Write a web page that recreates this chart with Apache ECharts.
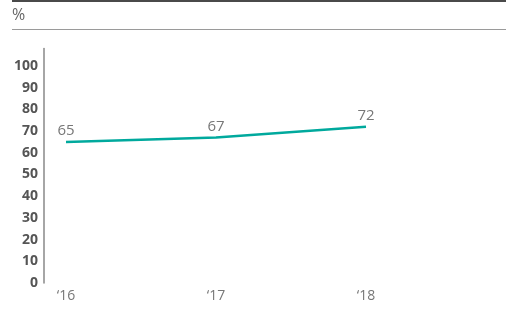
<!DOCTYPE html>
<html><head><meta charset="utf-8">
<script src="https://cdn.jsdelivr.net/npm/echarts@6/dist/echarts.min.js"></script>
<style>html,body{margin:0;padding:0;background:#fff}#c{width:506px;height:325px}</style>
</head><body><div id="c"></div>
<script>
var categories = ['\u201816', '\u201817', '\u201818'];
var values = [65, 67, 72];
var yTicks = [0, 10, 20, 30, 40, 50, 60, 70, 80, 90, 100];
var unitLabel = '%';

var chart = echarts.init(document.getElementById('c'));
chart.setOption({
  animation: false,
  backgroundColor: '#fff',
  graphic: [
    {type: 'line', shape: {x1: 12, y1: 1, x2: 506, y2: 1}, style: {stroke: '#4a4a4a', lineWidth: 2}},
    {type: 'line', shape: {x1: 12, y1: 29.5, x2: 506, y2: 29.5}, style: {stroke: '#9a9a9a', lineWidth: 1}},
    {type: 'text', left: 12, top: 7, style: {text: unitLabel, fill: '#666', fontSize: 16, fontFamily: 'Open Sans'}}
  ],
  grid: {left: 66, right: 140, top: 48.6, bottom: 42, containLabel: false},
  xAxis: {
    type: 'category', data: categories, boundaryGap: false,
    axisLine: {show: false}, axisTick: {show: false},
    axisLabel: {color: '#777', fontSize: 14, fontFamily: 'Open Sans', margin: 6}
  },
  yAxis: {
    type: 'value', min: 0, max: 108, interval: 10, offset: 22,
    axisLine: {show: true, lineStyle: {color: '#888', width: 1.5}},
    axisTick: {show: false}, splitLine: {show: false},
    axisLabel: {
      color: '#555', fontSize: 14, fontWeight: 'bold', fontFamily: 'Open Sans', margin: 6,
      formatter: function (v) { return yTicks.indexOf(v) >= 0 ? String(v) : ''; }
    }
  },
  series: [{
    type: 'line', data: values, symbol: 'circle', symbolSize: 1, showSymbol: true,
    itemStyle: {color: '#00a99d', opacity: 0},
    lineStyle: {color: '#00a99d', width: 2.5},
    label: {show: true, position: 'top', distance: 3, color: '#777', fontSize: 15, fontFamily: 'Open Sans', opacity: 1}
  }]
});
</script></body></html>
